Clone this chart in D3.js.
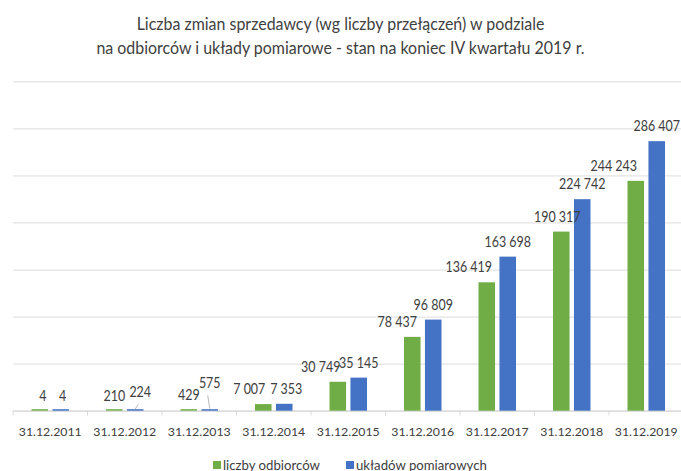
<!DOCTYPE html>
<html>
<head>
<meta charset="utf-8">
<script src="https://cdn.jsdelivr.net/npm/d3@7"></script>
<style>
  body { margin: 0; background: #fff; }
  svg text { font-family: Lato, "Open Sans", sans-serif; }
</style>
</head>
<body>
<div id="chart"></div>
<script>
// data
const categories = [
  "31.12.2011", "31.12.2012", "31.12.2013", "31.12.2014", "31.12.2015",
  "31.12.2016", "31.12.2017", "31.12.2018", "31.12.2019"
];
const seriesNames = ["liczby odbiorców", "układów pomiarowych"];
const odbiorcy = [4, 210, 429, 7007, 30749, 78437, 136419, 190317, 244243];
const uklady = [4, 224, 575, 7353, 35145, 96809, 163698, 224742, 286407];
const yTicks = [0, 50000, 100000, 150000, 200000, 250000, 300000, 350000];

// label nudges (moved by hand in the original)
const nudgeX = [[3, 0, 0, -14, -17, -15, -18, -4, -22], [2, 5, 0, 2, 0, 0, 0, 0, 0]];
const nudgeY = [[0, 0, 0, 0, 0, 0, 0, 0, 0], [0, -3, -12, 0, 0, 0, 0, 0, 0]];

const colors = ["#70ad47", "#4472c4"];
const width = 681;
const height = 471;

const svg = d3.select("#chart")
  .append("svg")
  .attr("width", width)
  .attr("height", height);

// title
const title = [
  "Liczba zmian sprzedawcy (wg liczby przełączeń) w podziale",
  "na odbiorców i układy pomiarowe - stan na koniec IV kwartału 2019 r."
];
svg.selectAll(".title")
  .data(title)
  .enter()
  .append("text")
  .attr("class", "title")
  .attr("transform", (d, i) => `translate(340.5,${30 + i * 23.5}) scale(0.95,1)`)
  .attr("text-anchor", "middle")
  .style("font-size", "16.8px")
  .attr("fill", "#404040")
  .text((d) => d);

const x0 = d3.scaleBand().domain(categories).range([13, 683.5]);
const x1 = d3.scaleBand().domain([0, 1]).range([18.5, 56]).paddingInner(0.21);
const y = d3.scaleLinear().domain([0, 350000]).range([410.7, 81.3]);

// gridlines
svg.append("g")
  .attr("class", "grid")
  .attr("transform", "translate(13,0)")
  .call(d3.axisLeft(y).tickValues(yTicks).tickSize(-668).tickFormat(""))
  .call((g) => g.select(".domain").remove())
  .call((g) => g.selectAll("line").attr("stroke", "#e3e3e3").attr("stroke-width", 1.2));

// x axis
const xAxis = svg.append("g")
  .attr("transform", "translate(0,410.7)")
  .call(d3.axisBottom(x0).tickSize(0).tickPadding(17));
xAxis.select(".domain").attr("stroke", "#d9d9d9").attr("stroke-width", 1.2);
xAxis.selectAll("text")
  .style("font-size", "12.3px")
  .attr("fill", "#404040");

// separators between categories
svg.append("g")
  .selectAll("line")
  .data(categories)
  .enter()
  .append("line")
  .attr("x1", (d) => x0(d))
  .attr("x2", (d) => x0(d))
  .attr("y1", 410.7)
  .attr("y2", 415.5)
  .attr("stroke", "#d9d9d9");

const series = [odbiorcy, uklady];
const fmt = d3.formatLocale({ decimal: ",", thousands: " ", grouping: [3], currency: ["", " zł"] }).format(",d");
const barMid = (s, i) => x0(categories[i]) + x1(s) + x1.bandwidth() / 2;

// bars first, labels on top
series.forEach((vals, s) => {
  svg.append("g")
    .selectAll("rect")
    .data(vals)
    .enter()
    .append("rect")
    .attr("x", (d, i) => x0(categories[i]) + x1(s))
    .attr("width", x1.bandwidth())
    .attr("y", (d) => Math.min(y(d), y(0) - 1.5))
    .attr("height", (d) => Math.max(y(0) - y(d), 1.5))
    .attr("fill", colors[s]);
});

series.forEach((vals, s) => {
  const g = svg.append("g");

  // leader lines for labels pulled away from their bar
  g.selectAll("line")
    .data(vals.map((d, i) => i).filter((i) => nudgeY[s][i] <= -3))
    .enter()
    .append("line")
    .attr("x1", (i) => barMid(s, i) + nudgeX[s][i] - 2)
    .attr("y1", (i) => y(vals[i]) - 10 + nudgeY[s][i] + 7)
    .attr("x2", (i) => barMid(s, i))
    .attr("y2", (i) => y(vals[i]) - 1.5)
    .attr("stroke", "#a6a6a6")
    .attr("stroke-width", 0.8);

  g.selectAll("text")
    .data(vals)
    .enter()
    .append("text")
    .attr("transform", (d, i) =>
      `translate(${barMid(s, i) + nudgeX[s][i]},${y(d) - 10 + nudgeY[s][i]}) scale(0.86,1)`)
    .attr("text-anchor", "middle")
    .style("font-size", "14.5px")
    .attr("fill", "#404040")
    .text((d) => fmt(d));
});

// legend
const legend = svg.append("g").attr("transform", "translate(213,461)");
const items = legend.selectAll("g")
  .data(seriesNames)
  .enter()
  .append("g")
  .attr("transform", (d, i) => `translate(${i * 133},0)`);
items.append("rect")
  .attr("width", 8)
  .attr("height", 8)
  .attr("fill", (d, i) => colors[i]);
items.append("text")
  .attr("x", 10)
  .attr("y", 8.5)
  .style("font-size", "13.2px")
  .attr("fill", "#404040")
  .text((d) => d);
</script>
</body>
</html>
